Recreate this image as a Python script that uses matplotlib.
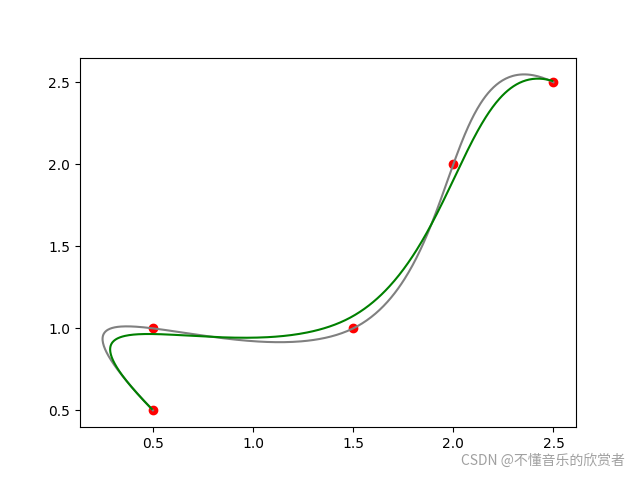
import numpy as np
import matplotlib.pyplot as plt

# control points
x = [0.5, 0.5, 1.5, 2.0, 2.5]
y = [0.5, 1.0, 1.0, 2.0, 2.5]
smooth_p = 2.5e6


def bspline_basis(t, knots, k=3):
    t = np.atleast_1d(np.asarray(t, dtype=float))
    nseg = len(knots) - 1
    B = np.zeros((len(t), nseg))
    for i in range(nseg):
        if knots[i] < knots[i + 1]:
            B[:, i] = (t >= knots[i]) & (t < knots[i + 1])
    last = max(i for i in range(nseg) if knots[i] < knots[i + 1])
    B[t >= knots[-1], last] = 1.0
    for d in range(1, k + 1):
        Bn = np.zeros((len(t), nseg - d))
        for i in range(nseg - d):
            a = knots[i + d] - knots[i]
            b = knots[i + d + 1] - knots[i + 1]
            term = np.zeros(len(t))
            if a > 0:
                term += (t - knots[i]) / a * B[:, i]
            if b > 0:
                term += (knots[i + d + 1] - t) / b * B[:, i + 1]
            Bn[:, i] = term
        B = Bn
    return B


def third_deriv(knots, lo, hi):
    ts = np.linspace(lo, hi, 6)[1:-1]
    Bs = bspline_basis(ts, knots)
    return np.array([np.polyfit(ts, Bs[:, j], 3)[0] * 6 for j in range(Bs.shape[1])])


pts = np.column_stack([x, y])
u = np.linspace(0, 1, len(x))
knots = np.array([0, 0, 0, 0, u[2], 1, 1, 1, 1], dtype=float)

# interpolating spline through the points
Bu = bspline_basis(u, knots)
c_interp = np.linalg.solve(Bu, pts)

# smoothed spline: penalise the jump of the third derivative at the inner knot
jump = third_deriv(knots, u[2], 1) - third_deriv(knots, 0, u[2])
A = smooth_p * Bu.T @ Bu + np.outer(jump, jump)
c_smooth = np.linalg.solve(A, smooth_p * Bu.T @ pts)

tt = np.linspace(0, 1, 400)
Bt = bspline_basis(tt, knots)
curve_interp = Bt @ c_interp
curve_smooth = Bt @ c_smooth

fig, ax = plt.subplots(figsize=(6.4, 4.8), dpi=100)
ax.scatter(x, y, color="red")
ax.plot(curve_interp[:, 0], curve_interp[:, 1], color="gray")
ax.plot(curve_smooth[:, 0], curve_smooth[:, 1], color="green")

fig.text(0.977, 0.025, "CSDN @不懂音乐的欣赏者", ha="right", va="bottom",
         color="#a0a0a0", fontsize=10,
         family=["Noto Sans CJK SC", "DejaVu Sans"])

fig.savefig("out.png", dpi=100)
